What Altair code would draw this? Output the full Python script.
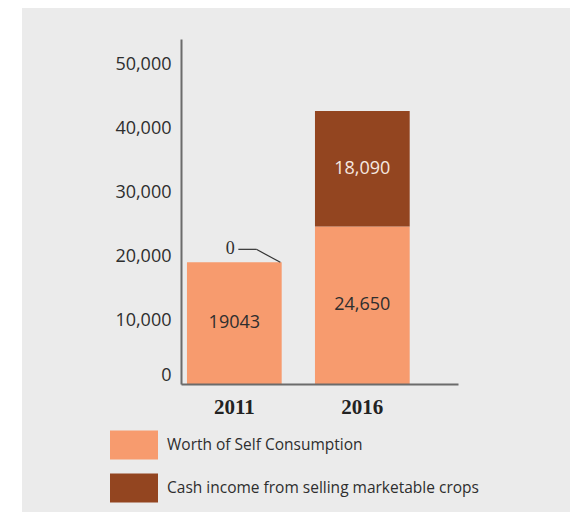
import altair as alt
import pandas as pd

years = ["2011", "2016"]
series = ["Worth of Self Consumption", "Cash income from selling marketable crops"]
self_consumption = [19043, 24650]
cash_income = [0, 18090]
self_labels = ["19043", "24,650"]
cash_labels = ["0", "18,090"]
y_ticks = [0, 10000, 20000, 30000, 40000, 50000]

ORANGE = "#F79B6E"
BROWN = "#934520"
PANEL = "#EBEBEB"
AXIS = "#6B6B6B"
TEXT = "#2E2E2E"

rows = []
for i, yr in enumerate(years):
    a = self_consumption[i]
    b = cash_income[i]
    rows.append(dict(year=yr, series=series[0], value=a, y0=0, y1=a, mid=a / 2,
                     label=self_labels[i], tcol=TEXT, order=0))
    rows.append(dict(year=yr, series=series[1], value=b, y0=a, y1=a + b, mid=a + b / 2,
                     label=cash_labels[i], tcol="#F6E9E0", order=1))
df = pd.DataFrame(rows)

xscale = alt.Scale(paddingInner=0.26, paddingOuter=0.212, align=0.11)
yscale = alt.Scale(domain=[0, 54000], nice=False, zero=True)

x_enc = alt.X("year:N", scale=xscale, sort=years,
              axis=alt.Axis(title=None, ticks=False, domainColor=AXIS, domainWidth=2,
                            labelFont="Liberation Serif", labelFontWeight="bold",
                            labelFontSize=21, labelColor="#222222", labelPadding=12,
                            labelAngle=0, zindex=1))
y_axis = alt.Axis(title=None, ticks=False, grid=False, values=y_ticks, format=",d",
                  domainColor=AXIS, domainWidth=2, labelFont="Open Sans",
                  labelFontSize=18, labelColor=TEXT, labelPadding=10, labelFlush=True,
                  zindex=1)

panel = alt.Chart(alt.Data(values=[{}])).mark_rect(color=PANEL).encode(
    x=alt.value(-159), x2=alt.value(389), y=alt.value(-31), y2=alt.value(473)
)

bars = alt.Chart(df).mark_bar().encode(
    x=x_enc,
    y=alt.Y("y1:Q", scale=yscale, axis=y_axis),
    y2="y0:Q",
    color=alt.Color("series:N", scale=alt.Scale(domain=series, range=[ORANGE, BROWN]),
                    legend=alt.Legend(
                        title=None, orient="none", legendX=-71, legendY=382,
                        direction="vertical", padding=0, zindex=1,
                        symbolType="M-1,-0.604H1V0.604H-1Z", symbolSize=2304,
                        symbolStrokeWidth=0, symbolOpacity=1,
                        labelFont="Open Sans", labelFontSize=15.5, labelColor=TEXT,
                        labelOffset=9, rowPadding=4, labelLimit=400)),
)

seg_text = alt.Chart(df).transform_filter("datum.value > 0").mark_text(
    font="Open Sans", fontSize=18
).encode(
    x=alt.X("year:N", sort=years),
    y=alt.Y("mid:Q"),
    text="label:N",
    color=alt.Color("tcol:N", scale=None),
)

zero_df = df[(df["value"] == 0)]
zero_text = alt.Chart(zero_df).mark_text(
    font="Liberation Serif", fontSize=18, dx=-4, dy=-13, color=TEXT
).encode(
    x=alt.X("year:N", sort=years),
    y=alt.Y("y1:Q"),
    text="label:N",
)
lead_h = alt.Chart(zero_df).mark_rule(
    color="#333333", strokeWidth=1.2, xOffset=4, x2Offset=22, yOffset=-13, y2Offset=-13
).encode(
    x=alt.X("year:N", sort=years, bandPosition=0.5),
    x2="year:N",
    y="y1:Q",
    y2="y1:Q",
)
lead_d = alt.Chart(zero_df).mark_rule(
    color="#333333", strokeWidth=1.2, xOffset=22, x2Offset=46, yOffset=-13, y2Offset=0
).encode(
    x=alt.X("year:N", sort=years, bandPosition=0.5),
    x2="year:N",
    y="y1:Q",
    y2="y1:Q",
)

chart = alt.layer(panel, bars, seg_text, zero_text, lead_h, lead_d).properties(
    width=277, height=345,
    autosize=alt.AutoSizeParams(type="none"),
    padding={"left": 181, "top": 39, "right": 112, "bottom": 129},
    background="white",
).configure_view(stroke=None, fill=None)

chart.save("out.html", embed_options={"renderer": "svg", "actions": False})
